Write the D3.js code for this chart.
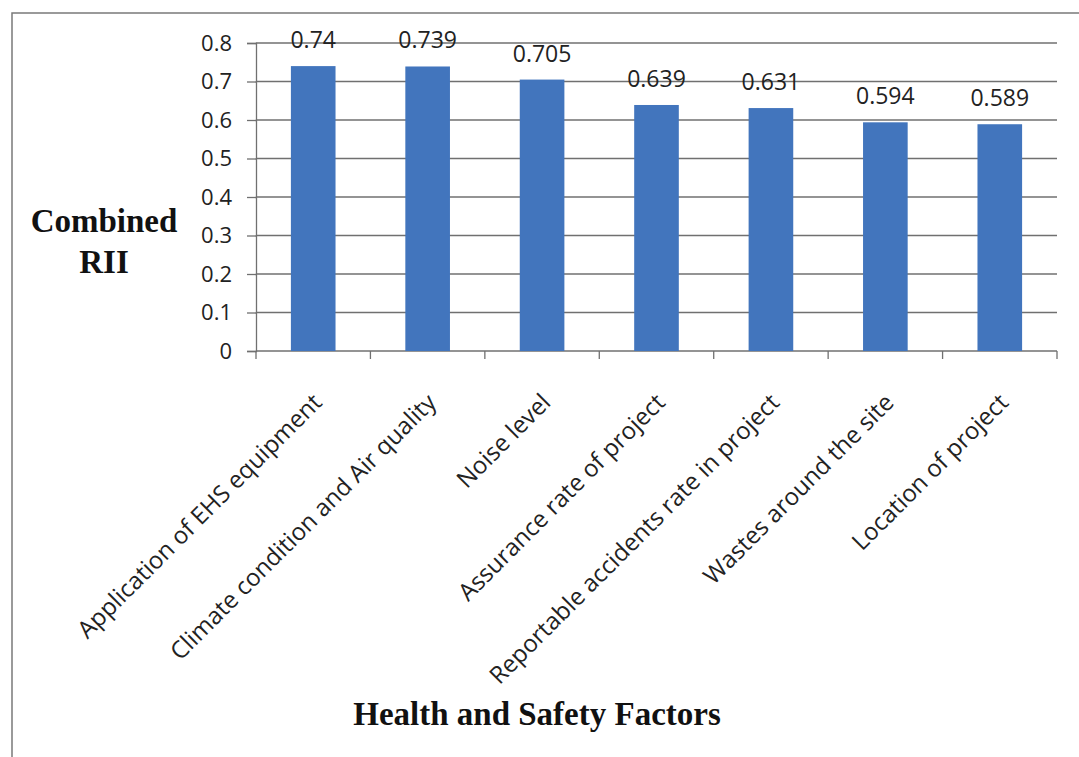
<!DOCTYPE html>
<html>
<head>
<meta charset="utf-8">
<script src="https://cdn.jsdelivr.net/npm/d3@7"></script>
<style>
  html, body { margin: 0; padding: 0; background: #fff; }
  svg { display: block; }
</style>
</head>
<body>
<svg id="chart" width="1079" height="757"></svg>
<script>
// Health and safety factors ranked by combined relative importance index (RII)
const factors = [
  "Application of EHS equipment",
  "Climate condition and Air quality",
  "Noise level",
  "Assurance rate of project",
  "Reportable accidents rate in project",
  "Wastes around the site",
  "Location of project"
];
const rii = [0.74, 0.739, 0.705, 0.639, 0.631, 0.594, 0.589];
const yTicks = [0, 0.1, 0.2, 0.3, 0.4, 0.5, 0.6, 0.7, 0.8];

const svg = d3.select("#chart");
const W = 1079, H = 757;
const plot = { left: 256, right: 1057, top: 43, bottom: 351 };
const sans = "'Open Sans', 'Liberation Sans', sans-serif";
const serif = "'Liberation Serif', 'Times New Roman', serif";
const gridColor = "#707070";

// outer frame (top and left edges)
svg.append("path")
  .attr("d", `M12,${H} L12,13 L${W},13`)
  .attr("fill", "none").attr("stroke", "#7a7a7a").attr("stroke-width", 1.5);

const x = d3.scaleBand().domain(factors).range([plot.left, plot.right]).paddingInner(0.61).paddingOuter(0.305);
const xBand = d3.scaleBand().domain(factors).range([plot.left, plot.right]);
const y = d3.scaleLinear().domain([0, 0.8]).range([plot.bottom, plot.top]);

// horizontal gridlines
svg.append("g").selectAll("line").data(yTicks).join("line")
  .attr("x1", plot.left).attr("x2", plot.right)
  .attr("y1", d => y(d)).attr("y2", d => y(d))
  .attr("stroke", gridColor).attr("stroke-width", 1.3);

// y axis
const yAxis = svg.append("g").attr("transform", `translate(${plot.left},0)`)
  .call(d3.axisLeft(y).tickValues(yTicks).tickSize(9).tickPadding(15).tickFormat(d => d3.format("")(d)));
yAxis.select(".domain").attr("stroke", gridColor).attr("stroke-width", 1.3);
yAxis.selectAll(".tick line").attr("stroke", gridColor).attr("stroke-width", 1.3);
yAxis.selectAll(".tick text")
  .attr("font-family", sans).attr("font-size", 22).attr("fill", "#222");

// category tick marks along the baseline
const bounds = factors.map(f => xBand(f)).concat([plot.right]);
svg.append("g").selectAll("line").data(bounds).join("line")
  .attr("x1", d => d).attr("x2", d => d)
  .attr("y1", plot.bottom).attr("y2", plot.bottom + 8)
  .attr("stroke", gridColor).attr("stroke-width", 1.3);

// bars
svg.append("g").selectAll("rect").data(factors).join("rect")
  .attr("x", d => x(d))
  .attr("y", (d, i) => y(rii[i]))
  .attr("width", x.bandwidth())
  .attr("height", (d, i) => y(0) - y(rii[i]))
  .attr("fill", "#4275bd");

// value labels
svg.append("g").selectAll("text").data(factors).join("text")
  .attr("x", d => x(d) + x.bandwidth() / 2)
  .attr("y", (d, i) => y(rii[i]) - 18)
  .attr("text-anchor", "middle")
  .attr("font-family", sans).attr("font-size", 23).attr("fill", "#222")
  .text((d, i) => rii[i]);

// rotated category labels
svg.append("g").selectAll("text").data(factors).join("text")
  .attr("transform", d => `translate(${x(d) + x.bandwidth() / 2 + 10},404) rotate(-45)`)
  .attr("text-anchor", "end")
  .attr("font-family", sans).attr("font-size", 24).attr("fill", "#222")
  .text(d => d);

// axis titles
const yTitle = svg.append("text")
  .attr("text-anchor", "middle")
  .attr("font-family", serif)
  .attr("font-weight", "bold").attr("font-size", 33).attr("fill", "#111");
yTitle.append("tspan").attr("x", 104).attr("y", 232).text("Combined");
yTitle.append("tspan").attr("x", 104).attr("y", 273).text("RII");

svg.append("text")
  .attr("x", 537).attr("y", 725)
  .attr("text-anchor", "middle")
  .attr("font-family", serif)
  .attr("font-weight", "bold").attr("font-size", 33).attr("fill", "#111")
  .text("Health and Safety Factors");
</script>
</body>
</html>
